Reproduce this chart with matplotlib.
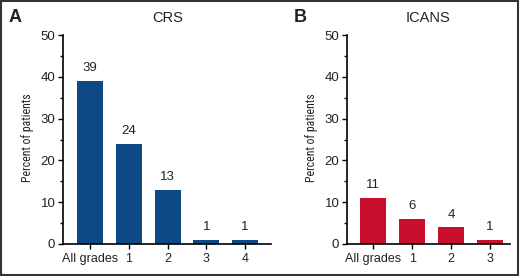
import matplotlib
matplotlib.use("Agg")
import matplotlib.pyplot as plt
from matplotlib.patches import Rectangle
from matplotlib.ticker import MultipleLocator
from matplotlib import font_manager

crs_categories = ["All grades", "1", "2", "3", "4"]
crs_values = [39, 24, 13, 1, 1]
icans_categories = ["All grades", "1", "2", "3"]
icans_values = [11, 6, 4, 1]
y_ticks = [0, 10, 20, 30, 40, 50]

names = {f.name for f in font_manager.fontManager.ttflist}
narrow = "Liberation Sans"
for cand in ["Arial Narrow", "Liberation Sans Narrow", "Roboto Condensed", "Archivo Narrow",
             "PT Sans Narrow", "Open Sans Condensed", "Encode Sans Condensed", "Barlow Condensed"]:
    if cand in names:
        narrow = cand
        break
plt.rcParams["font.family"] = ["Liberation Sans", "DejaVu Sans"]

fig = plt.figure(figsize=(5.2, 2.76), dpi=100)
fig.patches.append(Rectangle((0.002, 0.004), 0.995, 0.992, transform=fig.transFigure,
                             fill=False, edgecolor="#333333", linewidth=1.5))

def panel(rect, cats, vals, color, title, letter, xlim, letter_x, title_x, ylabel_x):
    ax = fig.add_axes(rect)
    x = list(range(len(cats)))
    ax.bar(x, vals, width=0.67, color=color, zorder=2)
    for xi, v in zip(x, vals):
        ax.text(xi, v + 1.6, str(v), ha="center", va="bottom", fontsize=9.5, color="#222222")
    ax.set_xlim(*xlim)
    ax.set_ylim(0, 50)
    ax.set_yticks(y_ticks)
    ax.yaxis.set_minor_locator(MultipleLocator(5))
    ax.set_xticks(x)
    ax.set_xticklabels(cats, fontsize=9, color="#222222")
    ax.tick_params(axis="y", labelsize=9.5, labelcolor="#222222", length=3.5, width=1, pad=2)
    ax.tick_params(axis="y", which="minor", length=2, width=1)
    ax.tick_params(axis="x", length=3.5, width=1, pad=3)
    for s in ["top", "right"]:
        ax.spines[s].set_visible(False)
    ax.spines["left"].set_linewidth(1.2)
    ax.spines["bottom"].set_linewidth(1.2)
    ax.set_ylabel("Percent of patients", fontsize=8.5, family=[narrow, "DejaVu Sans"], color="#222222")
    ax.yaxis.set_label_coords(ylabel_x, 0.5, transform=fig.transFigure)
    fig.text(title_x, 1 - 18 / 276, title, ha="center", va="center", fontsize=10.5, color="#222222")
    fig.text(letter_x, 1 - 18 / 276, letter, ha="center", va="center", fontsize=13,
             fontweight="bold", color="#222222")
    return ax

bottom = 32 / 276
height = (244 - 35) / 276
panel([63 / 520, bottom, (271 - 63) / 520, height], crs_categories, crs_values, "#0d4a85",
      "CRS", "A", (-0.70, 4.67), 15 / 520, 168 / 520, 34 / 520)
panel([347 / 520, bottom, (510 - 347) / 520, height], icans_categories, icans_values, "#c8102e",
      "ICANS", "B", (-0.67, 3.51), 300 / 520, 428 / 520, 318 / 520)

fig.savefig("out.png", dpi=100)
